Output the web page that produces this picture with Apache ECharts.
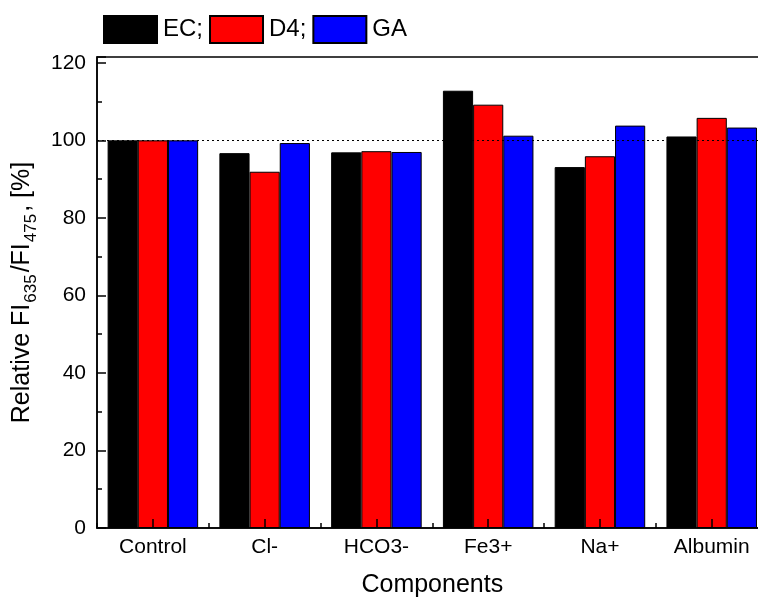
<!DOCTYPE html>
<html>
<head>
<meta charset="utf-8">
<script src="https://cdn.jsdelivr.net/npm/echarts@6/dist/echarts.min.js"></script>
<style>html,body{margin:0;padding:0;background:#fff;}#c{width:758px;height:599px;}</style>
</head>
<body>
<div id="c"></div>
<script>
var categories = ['Control', 'Cl-', 'HCO3-', 'Fe3+', 'Na+', 'Albumin'];
var seriesNames = ['EC;', 'D4;', 'GA'];
var ecValues = [100, 96.7, 96.9, 112.8, 93.1, 101.0];
var d4Values = [100, 91.9, 97.2, 109.2, 95.9, 105.8];
var gaValues = [100, 99.3, 97.0, 101.2, 103.8, 103.3];
var yTicks = [0, 20, 40, 60, 80, 100, 120];
var referenceLevel = 100;

var FONT = 'Liberation Sans, Arial, sans-serif';
var chart = echarts.init(document.getElementById('c'), null, {renderer: 'canvas'});

function barSeries(name, data, color) {
  return {
    name: name, type: 'bar', data: data, xAxisIndex: 0,
    barGap: '0%', barCategoryGap: '19%',
    itemStyle: {color: color, borderColor: '#000', borderWidth: 1},
    emphasis: {disabled: true}
  };
}

var series = [
  barSeries(seriesNames[0], ecValues, '#000000'),
  barSeries(seriesNames[1], d4Values, '#ff0000'),
  barSeries(seriesNames[2], gaValues, '#0000ff')
];
series[2].markLine = {
  silent: true, symbol: 'none', label: {show: false},
  lineStyle: {type: [2, 3], color: '#000', width: 1},
  data: [{yAxis: referenceLevel}]
};
series[2].z = 3;

var option = {
  animation: false,
  backgroundColor: '#fff',
  grid: {left: 97, top: 57, right: -9.6, bottom: 71, containLabel: false, outerBoundsMode: 'none',
    show: true, borderColor: '#000', borderWidth: 1.5, backgroundColor: 'transparent'},
  legend: {
    left: 98, top: 10, itemWidth: 53, itemHeight: 27, itemGap: 6,
    icon: 'rect',
    textStyle: {fontFamily: FONT, fontSize: 24, color: '#000', padding: [0, 0, 0, 1]},
    data: seriesNames
  },
  xAxis: [{
    type: 'category', data: categories, position: 'bottom', z: 10,
    axisLine: {show: true, lineStyle: {color: '#000', width: 1.5}},
    axisTick: {show: true, inside: true, length: 9, alignWithLabel: true, lineStyle: {color: '#000', width: 1.5}},
    axisLabel: {fontFamily: FONT, fontSize: 21, color: '#000', margin: 9},
    name: 'Components', nameLocation: 'middle', nameGap: 45,
    nameTextStyle: {fontFamily: FONT, fontSize: 25, color: '#000'},
    splitLine: {show: false}
  }, {
    type: 'category', data: categories, position: 'bottom', z: 10,
    axisLine: {show: false},
    axisTick: {show: true, inside: true, length: 5, lineStyle: {color: '#000', width: 1.5}},
    axisLabel: {show: false},
    splitLine: {show: false}
  }],
  yAxis: {
    type: 'value', min: yTicks[0], max: 121.5, interval: yTicks[1] - yTicks[0], z: 10,
    axisLine: {show: true, lineStyle: {color: '#000', width: 1.5}},
    axisTick: {show: true, inside: true, length: 9, lineStyle: {color: '#000', width: 1.5}},
    minorTick: {show: true, splitNumber: 2, length: 5, lineStyle: {color: '#000', width: 1.5}},
    splitLine: {show: false},
    axisLabel: {fontFamily: FONT, fontSize: 21, color: '#000', margin: 11, showMaxLabel: false,
      formatter: function (v) { return yTicks.indexOf(v) >= 0 ? String(v) : ''; }},
    name: 'Relative FI{sub|635}/FI{sub|475}, [%]',
    nameLocation: 'middle', nameGap: 57,
    nameTextStyle: {
      fontFamily: FONT, fontSize: 25, color: '#000', lineHeight: 34,
      rich: {
        sub: {fontFamily: FONT, fontSize: 17, color: '#000', verticalAlign: 'bottom', lineHeight: 36, padding: [0, 2, 0, 1]}
      }
    }
  },
  series: series
};
chart.setOption(option);
</script>
</body>
</html>
